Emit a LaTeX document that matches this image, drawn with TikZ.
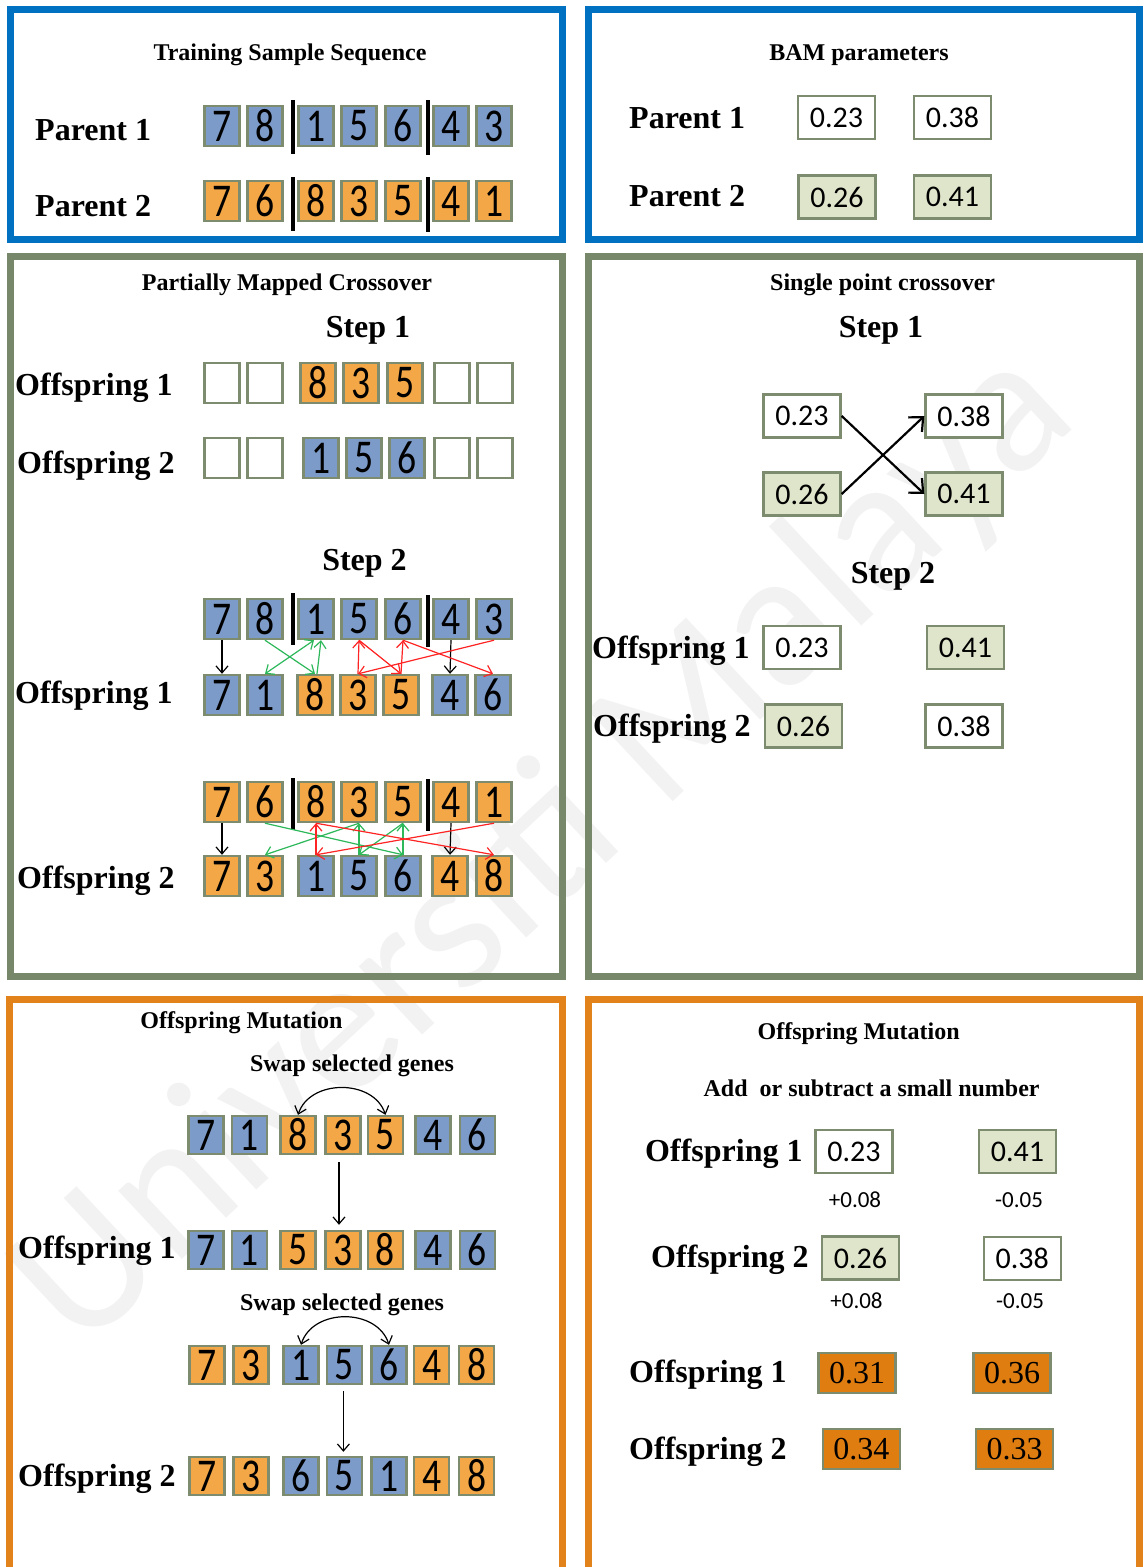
\documentclass[tikz,border=0pt]{standalone}
\usepackage{fontspec}
\setmainfont{Liberation Serif}
\newfontfamily\calib{Carlito}
\newfontfamily\genefam[FakeStretch=0.8]{Carlito}
\usetikzlibrary{arrows.meta,calc}

\definecolor{panelblue}{HTML}{0070C0}
\definecolor{panelgreen}{HTML}{778769}
\definecolor{panelorange}{HTML}{E2821A}
\definecolor{boxline}{HTML}{7D8B6E}
\definecolor{geneblue}{HTML}{7D9BC8}
\definecolor{geneorange}{HTML}{F3A746}
\definecolor{paramgreen}{HTML}{DEE5CA}
\definecolor{mutorange}{HTML}{E07D10}
\definecolor{pmxgreen}{HTML}{2DB85A}
\definecolor{pmxred}{HTML}{FF2424}

\def\geneh{40pt}
% one row of gene boxes: prefix, y, list of x/digit/fill
\newcommand\generow[3]{%
  \foreach \gx/\gd/\gc [count=\gi] in {#3} {\node[gene=\gc] (#1\gi) at (\gx,#2) {\gd};}}

\tikzset{
  panel/.style={line width=7pt},
  gene/.style={draw=boxline, line width=2.4pt, fill=#1, minimum width=35pt,
    minimum height=\geneh, inner sep=0pt, font=\genefam\fontsize{47}{47}\selectfont},
  param/.style={draw=boxline, line width=2.4pt, fill=#1, minimum width=77pt,
    minimum height=43pt, inner sep=0pt, font=\calib\fontsize{30}{30}\selectfont},
  mut/.style={draw=boxline, line width=2.4pt, fill=mutorange, minimum width=77pt,
    minimum height=40pt, inner sep=0pt, font=\fontsize{32}{32}\selectfont},
  title/.style={font=\bfseries\fontsize{24}{24}\selectfont, anchor=base, inner sep=0pt},
  lbl/.style={font=\bfseries\fontsize{32}{32}\selectfont, anchor=base west, inner sep=0pt},
  steplbl/.style={font=\bfseries\fontsize{32}{32}\selectfont, anchor=base, inner sep=0pt},
  delta/.style={font=\calib\fontsize{23}{23}\selectfont, anchor=base, inner sep=0pt},
  divider/.style={line width=4pt},
  maparrow/.style={line width=1.2pt, ->},
  crossarrow/.style={line width=2.2pt, -{Straight Barb[length=11pt,width=20pt]}},
}

\begin{document}
\begin{tikzpicture}[x=1pt, y=-1pt, >={Straight Barb[length=7pt,width=12pt]}]
\useasboundingbox (0,0) rectangle (1144,1567);
\clip (0,0) rectangle (1144,1567);
\fill[white] (0,0) rectangle (1144,1567);

% watermark
\node[rotate=43, text=black!5, font=\calib\fontsize{195}{195}\selectfont] (wm) at (545,850) {Universiti Malaya};

% panel frames
\draw[panel, panelblue]   (10,9.5) rectangle (562,239);
\draw[panel, panelblue]   (588,9.5) rectangle (1139,239);
\draw[panel, panelgreen]  (10,256) rectangle (562,976);
\draw[panel, panelgreen]  (588,256) rectangle (1139,976);
\draw[panel, panelorange] (9,999) rectangle (562,1600);
\draw[panel, panelorange] (588,999) rectangle (1139,1600);

% ---------- training sample sequence ----------
\node[title] (tst) at (290,60) {Training Sample Sequence};
\node[lbl] (tp1) at (35,140) {Parent 1};
\node[lbl] (tp2) at (35,216.5) {Parent 2};
\generow{ta}{126}{222/7/geneblue,265/8/geneblue,316/1/geneblue,359/5/geneblue,403/6/geneblue,451/4/geneblue,494/3/geneblue}
\generow{tb}{201}{222/7/geneorange,265/6/geneorange,316/8/geneorange,359/3/geneorange,403/5/geneorange,451/4/geneorange,494/1/geneorange}
\draw[divider] (293,100) -- (293,154);
\draw[divider] (428,100) -- (428,155);
\draw[divider] (293,177) -- (293,231);
\draw[divider] (428,177) -- (428,232);

% ---------- BAM parameters ----------
\node[title] (bpt) at (859,60) {BAM parameters};
\node[lbl] (bp1) at (629,128) {Parent 1};
\node[lbl] (bp2) at (629,206.5) {Parent 2};
\node[param=white] (bv1) at (836.5,117.5) {0.23};
\node[param=white] (bv2) at (952.5,117.5) {0.38};
\node[param=paramgreen] (bv3) at (837,197) {0.26};
\node[param=paramgreen] (bv4) at (952.5,197) {0.41};

% ---------- partially mapped crossover ----------
\node[title] (pmt) at (287,290.6) {Partially Mapped Crossover};
\node[steplbl] (ps1) at (368,337) {Step 1};
\node[lbl] (pl1) at (15,395) {Offspring 1};
\node[lbl] (pl2) at (17,473) {Offspring 2};
\generow{sa}{383}{222/{}/white,265/{}/white,318/8/geneorange,361/3/geneorange,405/5/geneorange,452/{}/white,495/{}/white}
\generow{sb}{458}{222/{}/white,265/{}/white,321/1/geneblue,364/5/geneblue,407/6/geneblue,452/{}/white,495/{}/white}

\node[steplbl] (ps2) at (364.5,570) {Step 2};
\generow{pa}{619}{222/7/geneblue,265/8/geneblue,316/1/geneblue,359/5/geneblue,403/6/geneblue,451/4/geneblue,494/3/geneblue}
\generow{oa}{695}{222/7/geneblue,265/1/geneblue,315/8/geneorange,358/3/geneorange,401/5/geneorange,450/4/geneblue,493/6/geneblue}
\node[lbl] (pl3) at (15,703) {Offspring 1};
\draw[divider] (293,593) -- (293,645);
\draw[divider] (428,595) -- (428,647);

\generow{pb}{802}{222/7/geneorange,265/6/geneorange,316/8/geneorange,359/3/geneorange,403/5/geneorange,451/4/geneorange,494/1/geneorange}
\generow{ob}{876}{222/7/geneorange,265/3/geneorange,316/1/geneblue,359/5/geneblue,403/6/geneblue,450/4/geneorange,494/8/geneorange}
\node[lbl] (pl4) at (17,888) {Offspring 2};
\draw[divider] (293,778) -- (293,830);
\draw[divider] (428,779) -- (428,831);

% mapping arrows, offspring 1
\draw[maparrow] (pa1.south) -- (oa1.north);
\draw[maparrow] (pa6.south) -- (oa6.north);
\draw[maparrow, pmxgreen] (pa2.south) -- (oa3.north);
\draw[maparrow, pmxgreen] ($(oa3.north)+(2,0)$) -- ($(pa3.south)+(5,0)$);
\draw[pmxgreen, line width=1.2pt, <->] ($(pa3.south)+(-2,0)$) -- (oa2.north);
\draw[maparrow, pmxred] (pa7.south) -- (oa4.north);
\draw[maparrow, pmxred] (oa4.north) -- (pa4.south);
\draw[maparrow, pmxred] (pa4.south) -- (oa5.north);
\draw[maparrow, pmxred] (oa5.north) -- (pa5.south);
\draw[maparrow, pmxred] (pa5.south) -- (oa7.north);

% mapping arrows, offspring 2
\draw[maparrow] (pb1.south) -- (ob1.north);
\draw[maparrow] (pb6.south) -- (ob6.north);
\draw[maparrow, pmxgreen] (pb2.south) -- (ob5.north);
\draw[maparrow, pmxgreen] (ob5.north) -- (pb5.south);
\draw[maparrow, pmxgreen] (pb5.south) -- (ob4.north);
\draw[maparrow, pmxgreen] (ob4.north) -- (pb4.south);
\draw[maparrow, pmxgreen] (pb4.south) -- (ob2.north);
\draw[maparrow, pmxred] (pb7.south) -- (ob3.north);
\draw[maparrow, pmxred] (ob3.north) -- (pb3.south);
\draw[maparrow, pmxred] (pb3.south) -- (ob7.north);

% ---------- single point crossover ----------
\node[title] (spt) at (882.6,290) {Single point crossover};
\node[steplbl] (ss1) at (881,337) {Step 1};
\node[param=white] (sx1) at (802,416) {0.23};
\node[param=white] (sx2) at (964,416) {0.38};
\node[param=paramgreen] (sx3) at (802,494) {0.26};
\node[param=paramgreen] (sx4) at (964,494) {0.41};
\draw[crossarrow] (sx1.east) -- (sx4.west);
\draw[crossarrow] (sx3.east) -- (sx2.west);
\node[steplbl] (ss2) at (893,583) {Step 2};
\node[lbl] (sl1) at (592,658) {Offspring 1};
\node[lbl] (sl2) at (593,736) {Offspring 2};
\node[param=white] (so1) at (802,647.6) {0.23};
\node[param=paramgreen] (so2) at (965.5,647.5) {0.41};
\node[param=paramgreen] (so3) at (803.5,726) {0.26};
\node[param=white] (so4) at (964,726) {0.38};

% ---------- offspring mutation (swap) ----------
\def\geneh{38pt}
\node[title] (omt) at (241.5,1028) {Offspring Mutation};
\node[title] (sw1) at (352,1071.6) {Swap selected genes};
\generow{ma}{1135}{206/7/geneblue,249.5/1/geneblue,298/8/geneorange,343/3/geneorange,385.5/5/geneorange,433/4/geneblue,477.5/6/geneblue}
\draw[line width=1.2pt, <->] (ma3.north) .. controls +(12,-36) and +(-12,-36) .. (ma5.north);
\generow{mb}{1250}{206/7/geneblue,249.5/1/geneblue,298/5/geneorange,343/3/geneorange,385.5/8/geneorange,433/4/geneblue,477.5/6/geneblue}
\draw[maparrow] ($(ma4.south)+(-4,7)$) -- ($(mb4.north)+(-4,-5)$);
\node[lbl] (ml1) at (18,1258) {Offspring 1};

\node[title] (sw2) at (342,1310) {Swap selected genes};
\generow{mc}{1365}{207/7/geneorange,251/3/geneorange,301/1/geneblue,344.4/5/geneblue,389/6/geneblue,431.7/4/geneorange,476.7/8/geneorange}
\draw[line width=1.2pt, <->] (mc3.north) .. controls +(12,-37) and +(-12,-37) .. (mc5.north);
\generow{md}{1476}{207/7/geneorange,251/3/geneorange,301/6/geneblue,344.4/5/geneblue,389/1/geneblue,431.7/4/geneorange,476.7/8/geneorange}
\draw[maparrow] ($(mc4.south)+(-1,6)$) -- ($(md4.north)+(-1,-4)$);
\node[lbl] (ml2) at (18,1486) {Offspring 2};

% ---------- offspring mutation (add / subtract) ----------
\node[title] (rmt) at (858.6,1039) {Offspring Mutation};
\node[title] (ras) at (871.6,1096) {Add~ or subtract a small number};
\node[lbl] (rl1) at (645,1161.5) {Offspring 1};
\node[param=white] (rv1) at (854,1151.5) {0.23};
\node[param=paramgreen] (rv2) at (1017.5,1151.5) {0.41};
\node[delta] (rd1) at (855,1207) {+0.08};
\node[delta] (rd2) at (1019,1207) {-0.05};
\node[lbl] (rl2) at (651,1267) {Offspring 2};
\node[param=paramgreen] (rv3) at (860.4,1258) {0.26};
\node[param=white] (rv4) at (1022.3,1258.7) {0.38};
\node[delta] (rd3) at (856.5,1308) {+0.08};
\node[delta] (rd4) at (1020,1308) {-0.05};
\node[lbl] (rl3) at (629,1382) {Offspring 1};
\node[mut] (rm1) at (857,1373) {0.31};
\node[mut] (rm2) at (1012,1373) {0.36};
\node[lbl] (rl4) at (629,1459.5) {Offspring 2};
\node[mut] (rm3) at (861.4,1449) {0.34};
\node[mut] (rm4) at (1014.7,1449) {0.33};
\end{tikzpicture}
\end{document}
